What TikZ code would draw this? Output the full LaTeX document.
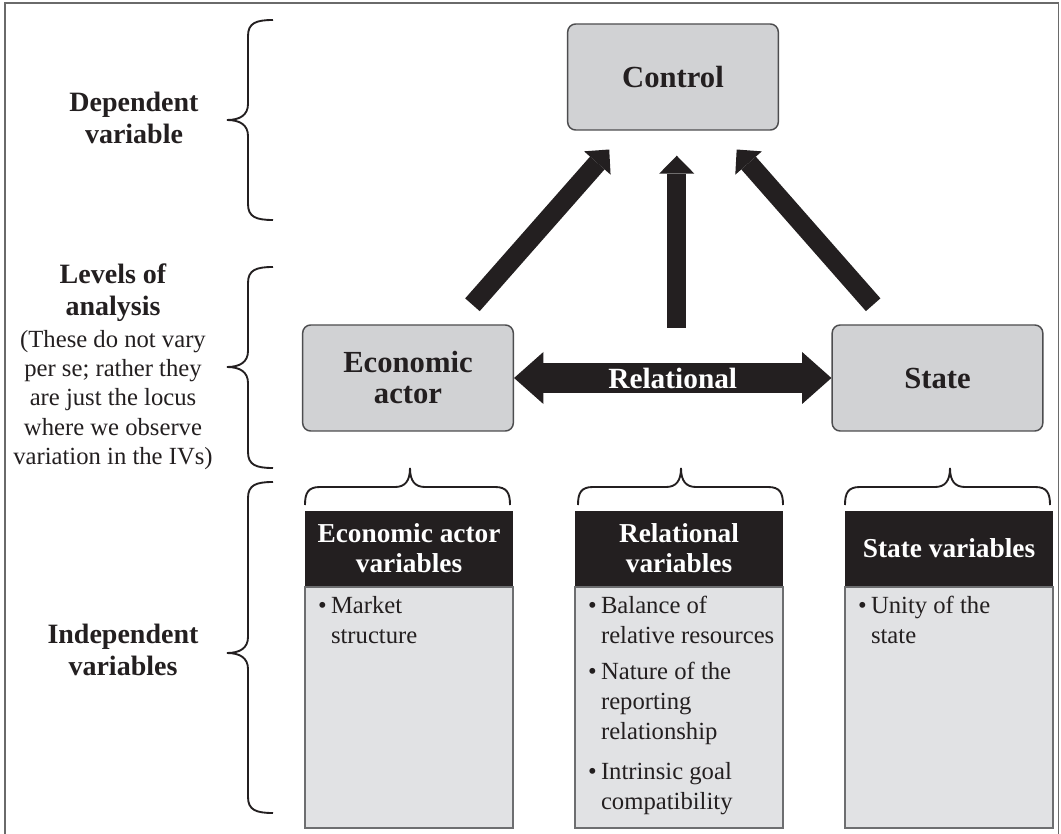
\documentclass[tikz,border=0pt]{standalone}
\usepackage{fontspec}
\setmainfont{Liberation Serif}
\usetikzlibrary{arrows.meta,calc}

\definecolor{ink}{HTML}{231F20}
\definecolor{boxgray}{HTML}{D1D2D4}
\definecolor{boxedge}{HTML}{4D4D4F}
\definecolor{panelgray}{HTML}{E1E2E4}
\definecolor{paneledge}{HTML}{6D6E70}
\definecolor{framegray}{HTML}{6A6A6A}

% bullet and hanging indent for the variable lists
\newcommand{\listbul}{\makebox[9.75pt][l]{\textbullet}}
\newcommand{\listind}{\hspace*{9.75pt}}

% left-pointing brace: top y, bottom y, tip y
\newcommand{\sidebrace}[3]{%
  \draw[bracestroke] (273,#1) .. controls (256,#1) and (248,#1+3) .. (248,#1+16)
    -- (248,#3-16) .. controls (248,#3-5) and (240,#3) .. (227,#3)
    .. controls (240,#3) and (248,#3+5) .. (248,#3+16)
    -- (248,#2-16) .. controls (248,#2-3) and (256,#2) .. (273,#2);}
% upward-pointing brace: left x, right x, tip x
\newcommand{\topbrace}[3]{%
  \draw[bracestroke] (#1,505) .. controls (#1,493) and (#1+3,487) .. (#1+15,487)
    -- (#3-15,487) .. controls (#3-5,487) and (#3,481) .. (#3,468)
    .. controls (#3,481) and (#3+5,487) .. (#3+15,487)
    -- (#2-15,487) .. controls (#2-3,487) and (#2,493) .. (#2,505);}

\begin{document}
\begin{tikzpicture}[x=0.75pt, y=-0.75pt,
  levelbox/.style={draw=boxedge, line width=1.1pt, fill=boxgray, rounded corners=6pt,
    minimum width=158pt, minimum height=79.5pt, inner sep=0pt, align=center,
    text=ink, font=\fontsize{23}{23.25}\selectfont\bfseries},
  header/.style={fill=ink, text=white, minimum width=156pt, minimum height=56.25pt,
    inner sep=0pt, align=center, font=\fontsize{20.5}{22.5}\selectfont\bfseries},
  panel/.style={draw=paneledge, line width=1.1pt, fill=panelgray,
    minimum width=156pt, minimum height=180.75pt, inner sep=0pt},
  itemlist/.style={anchor=north west, inner sep=0pt, align=left, text=ink,
    font=\fontsize{18.5}{22.5}\selectfont},
  sidelabel/.style={inner sep=0pt, align=center, text=ink,
    font=\fontsize{21}{24}\selectfont\bfseries},
  sidenote/.style={inner sep=0pt, align=center, text=ink,
    font=\fontsize{18.5}{22}\selectfont},
  rellabel/.style={inner sep=0pt, text=white, font=\fontsize{22}{22}\selectfont\bfseries},
  bigarrow/.style={draw=ink, line width=14.5pt,
    -{Triangle[width=26.5pt, length=13.5pt, line width=0pt]}},
  relarrow/.style={draw=ink, line width=22.5pt,
    {Triangle[width=39pt, length=22pt, line width=0pt]}-{Triangle[width=39pt, length=22pt, line width=0pt]}},
  bracestroke/.style={draw=ink, line width=1.4pt},
]
% canvas and frame
\path[use as bounding box, fill=white] (0,0) rectangle (1061,834);
\draw[framegray, line width=1.4pt] (5,834) -- (5,3) -- (1058.5,3) -- (1058.5,834);

% levels of analysis
\node[levelbox] (control) at (673,77) {Control};
\node[levelbox] (econ) at (408,378) {Economic\\actor};
\node[levelbox] (state) at (937.5,378) {State};

% relational link and arrows into the dependent variable
\draw[relarrow] (econ) -- node[rellabel] (rel) {Relational} (state);
\coordinate (midfoot) at ($(rel.center)+(4,-50)$);
\draw[bigarrow, shorten <=19.5pt, shorten >=18.75pt] (econ) -- (control);
\draw[bigarrow, shorten <=19.5pt, shorten >=18.75pt] (state) -- (control);
\draw[bigarrow, shorten >=18.75pt] (midfoot) -- (midfoot |- control.south);

% left-hand labels with their braces
\node[sidelabel] (dep) at (134,118) {Dependent\\variable};
\node[sidelabel] (lev) at (113,292.5) {Levels of\\analysis};
\node[sidenote] (levnote) at (113,400) {(These do not vary\\per se; rather they\\are just the locus\\where we observe\\variation in the IVs)};
\node[sidelabel] (indep) at (123,650) {Independent\\variables};
\sidebrace{20}{220}{120}
\sidebrace{267}{468}{367}
\sidebrace{482}{813}{653}

% independent variable columns
\node[header] (hdrA) at (409,548.5) {Economic actor\\variables};
\node[header] (hdrB) at (679,548.5) {Relational\\variables};
\node[header] (hdrC) at (949,548.5) {State variables};
\node[panel, anchor=north] (panelA) at (hdrA.south) {};
\node[panel, anchor=north] (panelB) at (hdrB.south) {};
\node[panel, anchor=north] (panelC) at (hdrC.south) {};
\topbrace{305}{510}{410}
\topbrace{578}{783}{681}
\topbrace{845}{1050}{950}

\node[itemlist] (listA) at ($(panelA.north west)+(13.5,10)$)
  {\listbul Market\\\listind structure};
\node[itemlist] (listB) at ($(panelB.north west)+(13.5,10)$)
  {\listbul Balance of\\\listind relative resources\\[4.5pt]%
   \listbul Nature of the\\\listind reporting\\\listind relationship\\[7.5pt]%
   \listbul Intrinsic goal\\\listind compatibility};
\node[itemlist] (listC) at ($(panelC.north west)+(13.5,10)$)
  {\listbul Unity of the\\\listind state};
\end{tikzpicture}
\end{document}
